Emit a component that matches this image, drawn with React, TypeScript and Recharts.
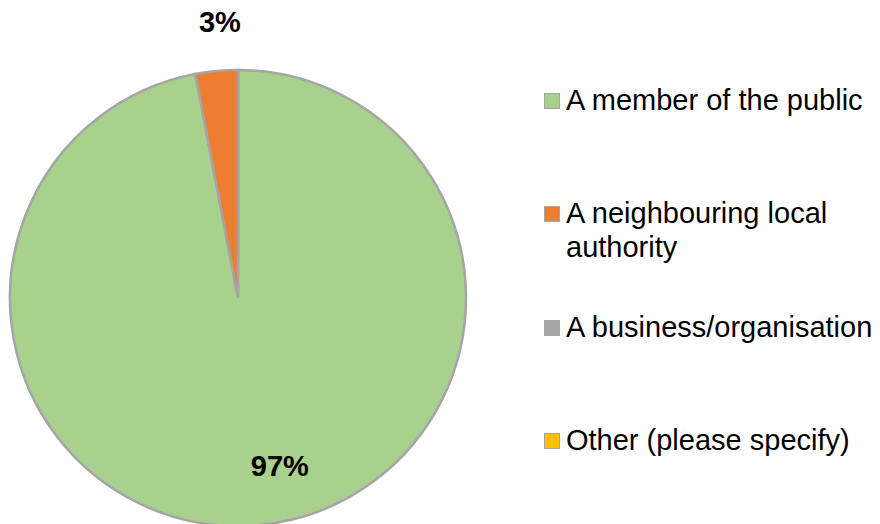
import { Cell, Pie, PieChart } from "recharts"

const categories = [
  "A member of the public",
  "A neighbouring local authority",
  "A business/organisation",
  "Other (please specify)",
]
const shares = [97, 3, 0, 0]
const colors = ["#A9D18E", "#ED7D31", "#A5A5A5", "#FFC000"]

const data = categories.map((name, i) => ({ name, value: shares[i] }))
const total = shares.reduce((a, b) => a + b, 0)

const FONT = '"Liberation Sans", Arial, sans-serif'
const RAD = Math.PI / 180

// Excel-ish label placement: big slice label inside, small one outside
function renderLabel(props: any) {
  const { cx, cy, midAngle, outerRadius, value } = props
  if (!value) return null
  const inside = value / total > 0.5
  const r = inside ? outerRadius * 0.74 : outerRadius + 49
  const x = cx + r * Math.cos(-midAngle * RAD) + (inside ? 26 : 8)
  const y = cy + r * Math.sin(-midAngle * RAD)
  return (
    <text
      x={x}
      y={y}
      textAnchor="middle"
      dominantBaseline="central"
      fontFamily={FONT}
      fontSize={29}
      fontWeight="bold"
      fill="#000"
    >
      {`${Math.round((value / total) * 100)}%`}
    </text>
  )
}

function LegendBox() {
  return (
    <div
      style={{
        position: "absolute",
        left: 544,
        top: 83,
        fontFamily: FONT,
        fontSize: 29,
        lineHeight: "34px",
        color: "#000",
      }}
    >
      {categories.map((name, i) => (
        <div key={name} style={{ display: "flex", height: 113.3, alignItems: "flex-start" }}>
          <span
            style={{
              width: 14,
              height: 14,
              marginTop: 10,
              marginRight: 6,
              background: colors[i],
              border: "1.5px solid #A5A5A5",
              flex: "none",
            }}
          />
          <span style={{ width: 316 }}>{name}</span>
        </div>
      ))}
    </div>
  )
}

export default function App() {
  return (
    <div style={{ position: "absolute", left: 0, top: 0, width: 880, height: 524, background: "#fff" }}>
      <PieChart width={880} height={524} margin={{ top: 0, right: 0, bottom: 0, left: 0 }}>
        <Pie
          data={data}
          dataKey="value"
          nameKey="name"
          cx={238}
          cy={298}
          outerRadius={228}
          startAngle={90}
          endAngle={-270}
          stroke="#A5A5A5"
          strokeWidth={2.5}
          label={renderLabel}
          labelLine={false}
          isAnimationActive={false}
        >
          {data.map((d, i) => (
            <Cell key={d.name} fill={colors[i]} />
          ))}
        </Pie>
      </PieChart>
      <LegendBox />
    </div>
  )
}
